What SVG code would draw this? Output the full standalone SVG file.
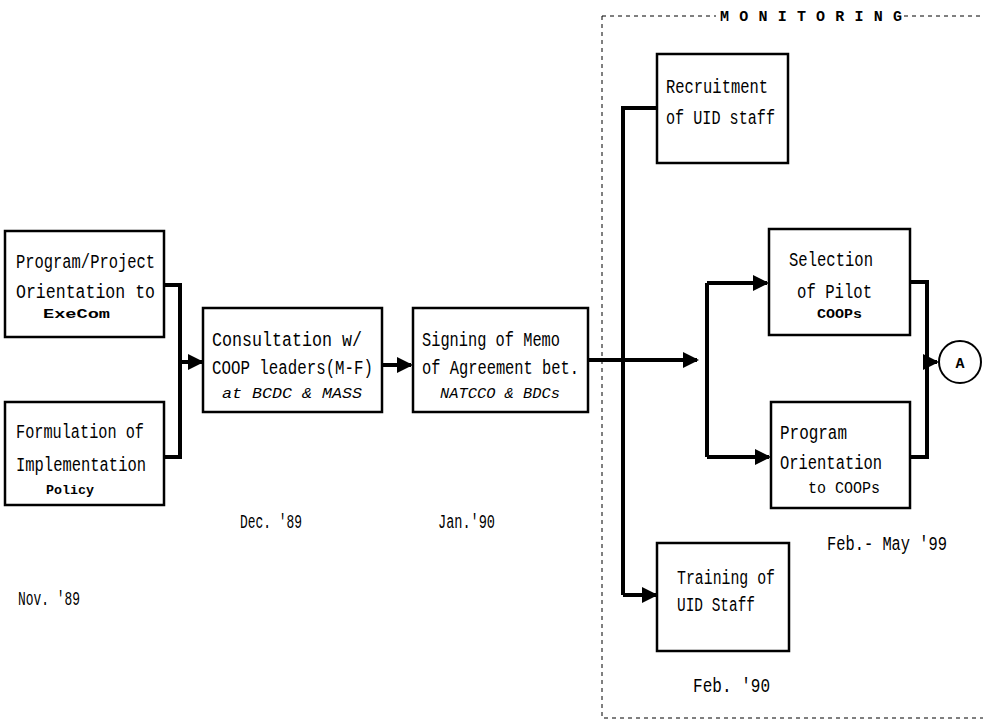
<svg xmlns="http://www.w3.org/2000/svg" width="983" height="723" viewBox="0 0 983 723">
<defs>
<marker id="ah" markerWidth="4" markerHeight="4" refX="3.5" refY="2" orient="auto" markerUnits="strokeWidth">
<path d="M0,0 L4,2 L0,4 Z" fill="#000"/>
</marker>
<style>
.box{fill:#fff;stroke:#000;stroke-width:2.5}
.t{font-family:"Liberation Mono","DejaVu Sans Mono",monospace;font-size:20px;fill:#000}
.s{font-family:"Liberation Mono","DejaVu Sans Mono",monospace;font-size:13px;font-weight:bold;fill:#000}
.i{font-family:"Liberation Mono","DejaVu Sans Mono",monospace;font-size:15px;font-style:italic;fill:#000}
.m{font-family:"Liberation Mono","DejaVu Sans Mono",monospace;font-size:15px;font-weight:bold;fill:#000}
.c{fill:none;stroke:#000;stroke-width:4}
.a{fill:none;stroke:#000;stroke-width:4;marker-end:url(#ah)}
.d{fill:none;stroke:#000;stroke-width:1;stroke-dasharray:4,4}
</style>
</defs>
<rect width="983" height="723" fill="#fff"/>
<g id="monitoring">
<path class="d" d="M602,16 L716,16 M904,16 L983,16 M602,16 L602,718 L983,718"/>
<text x="720" y="21" class="m" textLength="182" lengthAdjust="spacing">MONITORING</text>
</g>
<g id="connectors">
<path class="c" d="M165,285 L180,285 L180,457 L165,457"/>
<path class="a" d="M180,362 L202,362"/>
<path class="a" d="M382,365 L411,365"/>
<path class="a" d="M588,360 L697,360"/>
<path class="c" d="M657,108 L623,108 L623,595"/>
<path class="a" d="M623,595 L656,595"/>
<path class="c" d="M707,457 L707,283"/>
<path class="a" d="M707,283 L767,283"/>
<path class="a" d="M707,457 L769,457"/>
<path class="c" d="M910,282 L927,282 L927,457 L910,457"/>
<path class="a" d="M927,362 L937,362"/>
</g>
<g id="n1">
<rect class="box" x="5" y="231" width="159" height="106"/>
<text class="t" x="16" y="268" textLength="139" lengthAdjust="spacingAndGlyphs">Program/Project</text>
<text class="t" x="16" y="298" textLength="139" lengthAdjust="spacingAndGlyphs">Orientation to</text>
<text class="s" x="43" y="318" textLength="67" lengthAdjust="spacingAndGlyphs">ExeCom</text>
</g>
<g id="n2">
<rect class="box" x="5" y="402" width="159" height="103"/>
<text class="t" x="16" y="438" textLength="128" lengthAdjust="spacingAndGlyphs">Formulation of</text>
<text class="t" x="16" y="471" textLength="130" lengthAdjust="spacingAndGlyphs">Implementation</text>
<text class="s" x="46" y="494" textLength="48" lengthAdjust="spacingAndGlyphs">Policy</text>
</g>
<g id="n3">
<rect class="box" x="203" y="308" width="179" height="104"/>
<text class="t" x="212" y="346" textLength="150" lengthAdjust="spacingAndGlyphs">Consultation w/</text>
<text class="t" x="212" y="374" textLength="161" lengthAdjust="spacingAndGlyphs">COOP leaders(M-F)</text>
<text class="i" x="222" y="398" textLength="140" lengthAdjust="spacingAndGlyphs">at BCDC &amp; MASS</text>
</g>
<g id="n4">
<rect class="box" x="413" y="308" width="175" height="104"/>
<text class="t" x="422" y="346" textLength="138" lengthAdjust="spacingAndGlyphs">Signing of Memo</text>
<text class="t" x="422" y="374" textLength="157" lengthAdjust="spacingAndGlyphs">of Agreement bet.</text>
<text class="i" x="440" y="398" textLength="120" lengthAdjust="spacingAndGlyphs">NATCCO &amp; BDCs</text>
</g>
<g id="n5">
<rect class="box" x="657" y="54" width="131" height="109"/>
<text class="t" x="666" y="93" textLength="102" lengthAdjust="spacingAndGlyphs">Recruitment</text>
<text class="t" x="666" y="124" textLength="109" lengthAdjust="spacingAndGlyphs">of UID staff</text>
</g>
<g id="n6">
<rect class="box" x="769" y="229" width="141" height="106"/>
<text class="t" x="789" y="266" textLength="84" lengthAdjust="spacingAndGlyphs">Selection</text>
<text class="t" x="797" y="298" textLength="75" lengthAdjust="spacingAndGlyphs">of Pilot</text>
<text class="s" x="817" y="318" textLength="45" lengthAdjust="spacingAndGlyphs">COOPs</text>
</g>
<g id="n7">
<rect class="box" x="771" y="402" width="139" height="106"/>
<text class="t" x="780" y="439" textLength="67" lengthAdjust="spacingAndGlyphs">Program</text>
<text class="t" x="780" y="469" textLength="102" lengthAdjust="spacingAndGlyphs">Orientation</text>
<text class="t" x="808" y="493" textLength="72" lengthAdjust="spacingAndGlyphs" style="font-size:16px">to COOPs</text>
</g>
<g id="n8">
<rect class="box" x="657" y="543" width="132" height="108"/>
<text class="t" x="677" y="584" textLength="98" lengthAdjust="spacingAndGlyphs">Training of</text>
<text class="t" x="677" y="611" textLength="78" lengthAdjust="spacingAndGlyphs">UID Staff</text>
</g>
<g id="nA">
<circle cx="960" cy="362" r="21" fill="#fff" stroke="#000" stroke-width="2"/>
<text class="m" x="960" y="368" text-anchor="middle">A</text>
</g>
<g id="dates">
<text class="t" x="18" y="605" textLength="62" lengthAdjust="spacingAndGlyphs">Nov. '89</text>
<text class="t" x="240" y="528" textLength="62" lengthAdjust="spacingAndGlyphs">Dec. '89</text>
<text class="t" x="438" y="528" textLength="57" lengthAdjust="spacingAndGlyphs">Jan.'90</text>
<text class="t" x="827" y="550" textLength="120" lengthAdjust="spacingAndGlyphs">Feb.- May '99</text>
<text class="t" x="693" y="692" textLength="77" lengthAdjust="spacingAndGlyphs">Feb. '90</text>
</g>
</svg>
